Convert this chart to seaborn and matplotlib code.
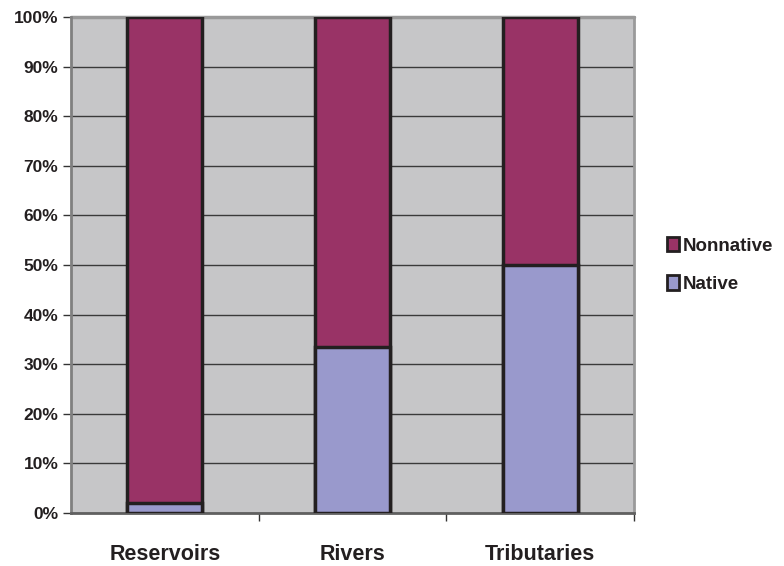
import matplotlib
matplotlib.use("Agg")
import matplotlib.pyplot as plt
import seaborn as sns
import pandas as pd
import numpy as np
from matplotlib.patches import Patch
from matplotlib.ticker import PercentFormatter

categories = ["Reservoirs", "Rivers", "Tributaries"]
native = [2.0, 33.5, 50.0]
nonnative = [98.0, 66.5, 50.0]

sns.set_theme(style="white")
plt.rcParams['font.family'] = ['Liberation Sans', 'DejaVu Sans']

df = pd.DataFrame({"category": categories, "Native": native,
                   "Nonnative": nonnative})
df["Total"] = df["Native"] + df["Nonnative"]

fig = plt.figure(figsize=(7.84, 5.66), dpi=100)
ax = fig.add_axes([71/784, 1-513/566, (634-71)/784, (513-17)/566])
ax.set_facecolor("#C6C6C8")

c_non = "#993366"
c_nat = "#9999CC"
sns.barplot(data=df, x="category", y="Total", color=c_non, width=0.4,
            edgecolor="#231F20", linewidth=2.5, ax=ax, saturation=1, zorder=3)
sns.barplot(data=df, x="category", y="Native", color=c_nat, width=0.4,
            edgecolor="#231F20", linewidth=2.5, ax=ax, saturation=1, zorder=4)

ax.set_ylim(0, 100)
ax.set_xlim(-0.5, 2.5)
ax.set_yticks(np.arange(0, 101, 10))
ax.yaxis.set_major_formatter(PercentFormatter(decimals=0))
ax.yaxis.grid(True, color="#3a3a3a", linewidth=1.0, zorder=1)
ax.set_axisbelow(True)
ax.set_xlabel("")
ax.set_ylabel("")

ax.spines["top"].set_visible(False)
ax.spines["right"].set_color("#9a9a9a")
ax.spines["right"].set_linewidth(2)
ax.spines["left"].set_color("#808080")
ax.spines["left"].set_linewidth(2)
ax.spines["bottom"].set_color("#606060")
ax.spines["bottom"].set_linewidth(2)
ax.plot([0, 1], [1, 1], transform=ax.transAxes, color="#999999", lw=2.5, clip_on=False, zorder=2)

ax.tick_params(axis="y", which="major", left=True, length=6, width=1, color="#333333",
               labelsize=12.5, pad=3)
ax.set_xticks([0, 1, 2])
ax.set_xticklabels(categories)
ax.tick_params(axis="x", which="major", bottom=False, labelsize=15.5, pad=16)
ax.set_xticks([0.5, 1.5, 2.5], minor=True)
ax.tick_params(axis="x", which="minor", bottom=True, length=6, width=1, color="#333333")
for lab in ax.get_yticklabels() + ax.get_xticklabels():
    lab.set_fontweight("bold")
    lab.set_color("#231F20")

handles = [Patch(facecolor=c_non, edgecolor="#231F20", linewidth=2, label="Nonnative"),
           Patch(facecolor=c_nat, edgecolor="#231F20", linewidth=2, label="Native")]
leg = fig.legend(handles=handles, loc="center left", bbox_to_anchor=(650/784, 1-265/566),
                 frameon=False, handlelength=0.65, handleheight=0.8, handletextpad=0.2,
                 labelspacing=1.1, prop={"weight": "bold", "size": 13.5})
for t in leg.get_texts():
    t.set_color("#231F20")

fig.savefig("out.png", dpi=100)
